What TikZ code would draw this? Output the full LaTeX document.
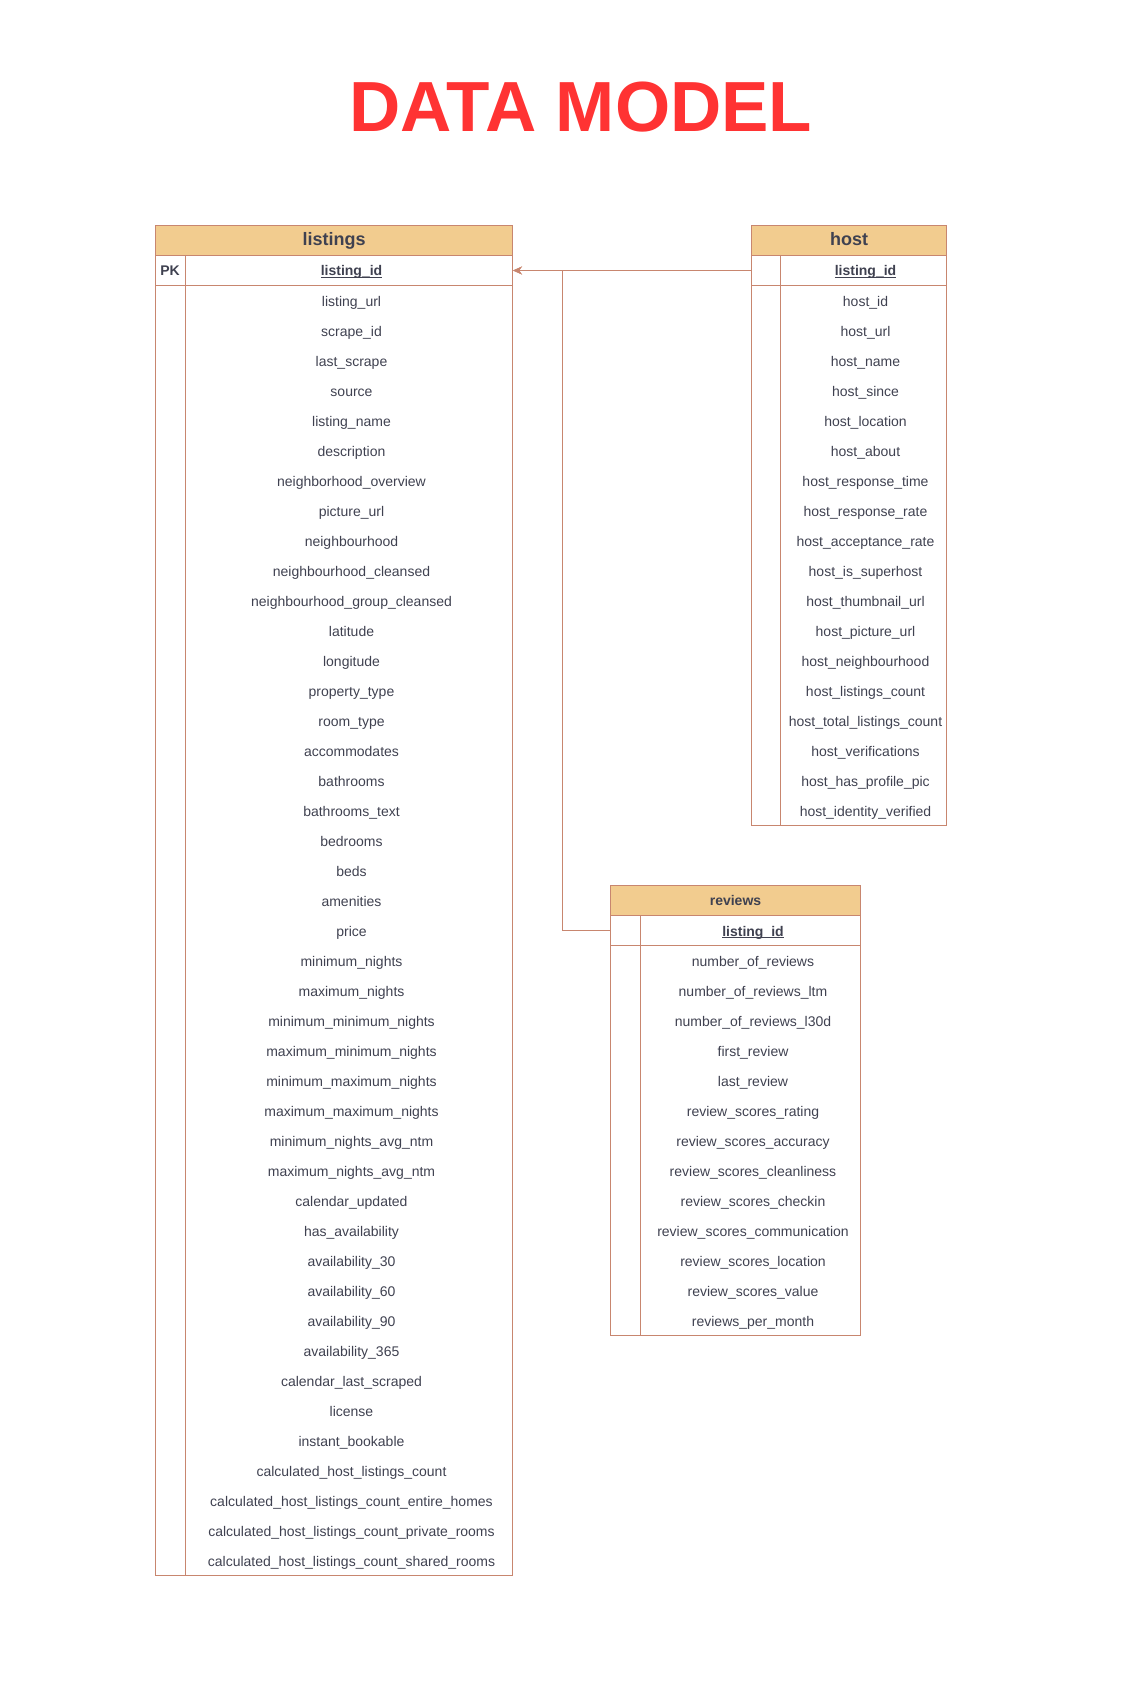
\documentclass[tikz,border=0pt]{standalone}
\usepackage{fontspec}
\setmainfont{Liberation Sans}
\usetikzlibrary{arrows.meta, positioning, calc}
\definecolor{tablefill}{HTML}{F2CC8F}
\definecolor{tableline}{HTML}{C8866F}
\definecolor{fieldtext}{HTML}{3F4150}
\definecolor{titlered}{HTML}{FF3333}

\begin{document}
\begin{tikzpicture}[x=1pt,y=-1pt,
                    tabline/.style={draw=tableline,line width=1pt},
                    tab/.style={tabline,inner sep=0pt,anchor=north west},
                    head/.style={tab,fill=tablefill,minimum height=30pt,text=fieldtext,
                                 text height=13pt,text depth=2pt,font=\bfseries\fontsize{18}{20}\selectfont},
                    keyrow/.style={tab,minimum height=30pt},
                    field/.style={inner sep=0pt,anchor=base,text=fieldtext,font=\fontsize{14}{16}\selectfont},
                    key/.style={field,font=\bfseries\fontsize{14}{16}\selectfont},
                    rel/.style={tabline,-{Stealth[length=9pt,width=8pt]}}]
  \useasboundingbox (0,0) rectangle (1122,1685);

  % title
  \node[anchor=base,text=titlered,font=\bfseries\fontsize{71}{80}\selectfont] (title) at (581,132) {DATA MODEL};

  % listings
  \node[tab,minimum width=357pt,minimum height=1350pt] (listings) at (155,225) {};
  \node[head,minimum width=357pt] (listingsHead) at (155,225) {listings};
  \node[keyrow,minimum width=357pt] (listingsKey) at (155,255) {};
  \draw[tabline] ([xshift=30pt]listingsKey.north west) -- ([xshift=30pt]listings.south west);
  \node[key] (listingsPK) at (170,276) {PK};
  \node[key] (listingsId) at (351.5,276) {\underline{\smash{listing\_id}}};
  \foreach \f [count=\i] in {listing\_url, scrape\_id, last\_scrape, source, listing\_name, description,
      neighborhood\_overview, picture\_url, neighbourhood, neighbourhood\_cleansed,
      neighbourhood\_group\_cleansed, latitude, longitude, property\_type, room\_type,
      accommodates, bathrooms, bathrooms\_text, bedrooms, beds, amenities, price,
      minimum\_nights, maximum\_nights, minimum\_minimum\_nights, maximum\_minimum\_nights,
      minimum\_maximum\_nights, maximum\_maximum\_nights, minimum\_nights\_avg\_ntm,
      maximum\_nights\_avg\_ntm, calendar\_updated, has\_availability, availability\_30,
      availability\_60, availability\_90, availability\_365, calendar\_last\_scraped, license,
      instant\_bookable, calculated\_host\_listings\_count,
      calculated\_host\_listings\_count\_entire\_homes,
      calculated\_host\_listings\_count\_private\_rooms,
      calculated\_host\_listings\_count\_shared\_rooms}
    \node[field] (listings-\i) at (351.5,276+30*\i) {\f};

  % host
  \node[tab,minimum width=195pt,minimum height=600pt] (host) at (751,225) {};
  \node[head,minimum width=195pt] (hostHead) at (751,225) {host};
  \node[keyrow,minimum width=195pt] (hostKey) at (751,255) {};
  \draw[tabline] ([xshift=29pt]hostKey.north west) -- ([xshift=29pt]host.south west);
  \node[key] (hostId) at (865.5,276) {\underline{\smash{listing\_id}}};
  \foreach \f [count=\i] in {host\_id, host\_url, host\_name, host\_since, host\_location,
      host\_about, host\_response\_time, host\_response\_rate, host\_acceptance\_rate,
      host\_is\_superhost, host\_thumbnail\_url, host\_picture\_url, host\_neighbourhood,
      host\_listings\_count, host\_total\_listings\_count, host\_verifications,
      host\_has\_profile\_pic, host\_identity\_verified}
    \node[field] (host-\i) at (865.5,276+30*\i) {\f};

  % reviews
  \node[tab,minimum width=250pt,minimum height=450pt] (reviews) at (610,885) {};
  \node[head,minimum width=250pt,text height=10pt,text depth=0pt,
        font=\bfseries\fontsize{14}{16}\selectfont] (reviewsHead) at (610,885) {reviews};
  \node[keyrow,minimum width=250pt] (reviewsKey) at (610,915) {};
  \draw[tabline] ([xshift=30pt]reviewsKey.north west) -- ([xshift=30pt]reviews.south west);
  \node[key] (reviewsId) at (753,936) {\underline{\smash{listing\_id}}};
  \foreach \f [count=\i] in {number\_of\_reviews, number\_of\_reviews\_ltm,
      number\_of\_reviews\_l30d, first\_review, last\_review, review\_scores\_rating,
      review\_scores\_accuracy, review\_scores\_cleanliness, review\_scores\_checkin,
      review\_scores\_communication, review\_scores\_location, review\_scores\_value,
      reviews\_per\_month}
    \node[field] (reviews-\i) at (753,936+30*\i) {\f};

  % relations
  \draw[rel] (hostKey.west) -- (listingsKey.east);
  \draw[rel] (reviewsKey.west) -- ++(-48,0) |- (listingsKey.east);
\end{tikzpicture}
\end{document}
